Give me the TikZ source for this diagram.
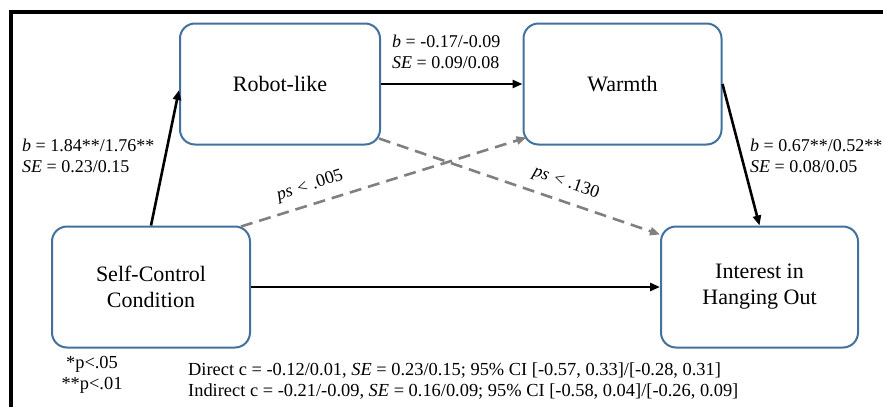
\documentclass[tikz,border=0pt]{standalone}
\usepackage{fontspec}
\setmainfont{Liberation Serif}
\usetikzlibrary{arrows.meta,calc}
\definecolor{boxblue}{HTML}{41719C}
\definecolor{dashgray}{HTML}{808080}
\begin{document}
\begin{tikzpicture}[x=1pt,y=-1pt,
  var/.style={draw=boxblue,line width=2pt,rounded corners=15pt,minimum width=198pt,minimum height=121pt,align=center,font=\fontsize{22}{26}\selectfont,inner sep=0pt},
  path/.style={line width=2.6pt,-{Triangle[length=10pt,width=8pt]}},
  npath/.style={line width=2.6pt,draw=dashgray,dash pattern=on 12pt off 7pt,-{Triangle[length=10pt,width=8pt,fill=dashgray]}},
  lab/.style={font=\fontsize{18}{21.5}\selectfont,inner sep=0pt,align=left},
  note/.style={font=\fontsize{18.4}{21}\selectfont,inner sep=0pt}]
\useasboundingbox (0,0) rectangle (883,407);
\fill[white] (0,0) rectangle (883,407);
\draw[line width=4pt] (11,407) -- (11,12) -- (883,12);

\node[var,minimum width=200pt] (robot) at (280,84) {Robot-like};
\node[var] (warmth) at (622.5,84) {Warmth};
\node[var] (self) at (151,287) {Self-Control\\Condition};
\node[var,minimum width=197pt] (interest) at (759.5,287) {Interest in\\Hanging Out};

\draw[path] (self.north) -- ($(robot.west)+(0,6)$);
\draw[path] (robot.east) -- (warmth.west);
\draw[path] (warmth.east) -- (interest.north);
\draw[path] (self.east) -- (interest.west);
\draw[npath] ($(self.north east)+(-10,1)$) -- ($(warmth.south west)+(4,-8)$);
\draw[npath] ($(robot.south east)+(-2,-7)$) -- ($(interest.north west)+(0,9)$);

\node[lab,anchor=west] (l1) at (22,156) {\textit{b} = 1.84**/1.76**\\\textit{SE} = 0.23/0.15};
\node[lab,anchor=west] (l2) at (392,52) {\textit{b} = -0.17/-0.09\\\textit{SE} = 0.09/0.08};
\node[lab,anchor=west] (l3) at (750,156) {\textit{b} = 0.67**/0.52**\\\textit{SE} = 0.08/0.05};
\node[lab,rotate=17.6] (p1) at (310,186) {\textit{ps} \textit{<} .005};
\node[lab,rotate=-19] (p2) at (566,183) {\textit{ps} \textit{<} .130};
\node[note,align=center] (stars) at (92,375) {*p<.05\\**p<.01};
\node[note,align=left,anchor=west] (eff) at (188,381) {Direct c = -0.12/0.01, \textit{SE} = 0.23/0.15; 95\% CI [-0.57, 0.33]/[-0.28, 0.31]\\Indirect c = -0.21/-0.09, \textit{SE} = 0.16/0.09; 95\% CI [-0.58, 0.04]/[-0.26, 0.09]};
\end{tikzpicture}
\end{document}
